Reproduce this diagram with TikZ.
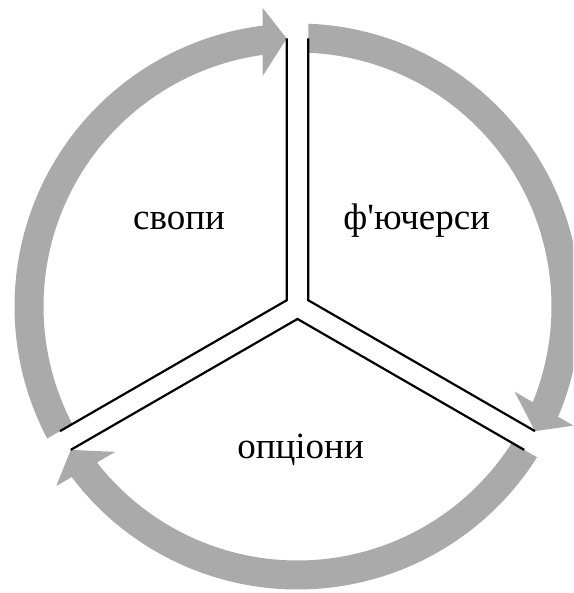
\documentclass[tikz,border=0pt]{standalone}
\usepackage{fontspec}
\setmainfont{Liberation Serif}[Ligatures=TeXOff]
\usetikzlibrary{calc}
\definecolor{ringgray}{RGB}{170,170,170}
\begin{document}
\begin{tikzpicture}[x=1pt,y=1pt,
  gapline/.style={line width=2.2pt, black, line join=miter},
  segfill/.style={fill=ringgray},
  txt/.style={font=\fontsize{37}{44}\selectfont, inner sep=0pt, anchor=base}]
\clip (-297.5,-286.5) rectangle (275.5,306.5);
\useasboundingbox (-297.5,-286.5) rectangle (275.5,306.5);
% three ring segments, each ending in an arrow head at the next gap
\foreach \ts in {90,-30,-150}{
  \pgfmathsetmacro\te{\ts-120}
  \fill[segfill] (\ts-2.187:283) arc[start angle=\ts-2.187, end angle=\te+7.064, radius=283]
    -- ($(\te:298.5)+(\te+90:34.8)$)
    -- ($(\te:268)+(\te+90:10.8)$)
    -- ($(\te:230.5)+(\te+90:34.8)$)
    -- (\te+7.875:254) arc[start angle=\te+7.875, end angle=\ts-2.437, radius=254]
    -- cycle;
}
% double separating lines of the three sectors
\coordinate (vl) at (150:12.47);
\coordinate (vr) at (30:12.47);
\coordinate (vb) at (270:12.47);
\coordinate (tl) at ($(90:268)+(180:10.8)$);
\coordinate (tr) at ($(90:268)+(0:10.8)$);
\coordinate (ru) at ($(-30:268)+(60:10.8)$);
\coordinate (rd) at ($(-30:268)+(-120:10.8)$);
\coordinate (lu) at ($(210:268)+(120:10.8)$);
\coordinate (ld) at ($(210:268)+(-60:10.8)$);
\draw[gapline] (tl) -- (vl) -- (lu);
\draw[gapline] (tr) -- (vr) -- (ru);
\draw[gapline] (rd) -- (vb) -- (ld);
% labels
\node[txt] (svopy) at (-118.5,76.5) {свопи};
\node[txt] (fyuchersy) at (119.2,76.5) {ф'ючерси};
\node[txt] (optsiony) at (3.1,-152.2) {опціони};
\end{tikzpicture}
\end{document}
